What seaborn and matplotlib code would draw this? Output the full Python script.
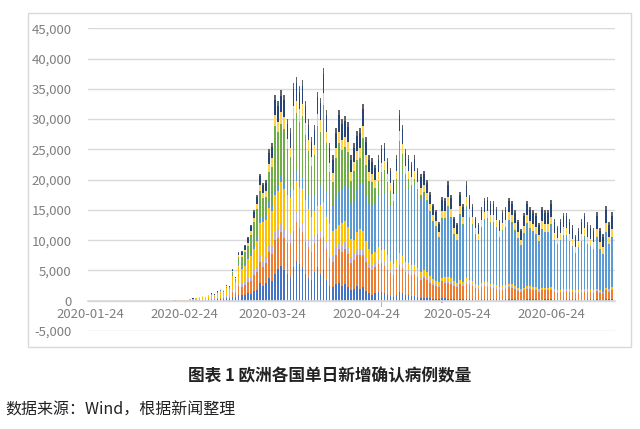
import pandas as pd
import numpy as np
import matplotlib.pyplot as plt
import matplotlib.dates as mdates
from matplotlib.patches import Rectangle
from matplotlib.ticker import FuncFormatter
import seaborn as sns

# ==========================================
# DATA (daily new cases, thousands, 2020-02-21 .. 2020-07-14)
# series listed bottom -> top as stacked in the source chart
# ==========================================

first_day = "2020-01-24"
data_start = "2020-02-21"
data_end = "2020-07-14"

blue = [
    0, 0, 0, 0, 0.02, 0.03, 0.05, 0.06, 0.08, 0.1, 0.1, 0.15, 0.2, 0.2, 0.25, 0.3, 0.3, 0.4, 0.35, 0.7, 0.6, 1.0,
    0.9, 1.0, 1.2, 1.1, 1.6, 1.8, 3.0, 2.5, 3.0, 3.8, 3.2,
    4.5, 5.2, 5.8, 5.0, 4.5, 4.0, 5.5, 6.5, 6.0, 5.5, 4.5, 3.8, 3.5, 4.8, 5.5, 4.5, 5.0, 3.5, 2.5, 2.2,
    2.8, 3.0, 2.5, 2.8, 2.2, 1.8, 2.0, 2.4, 2.0, 2.2, 1.6, 1.2, 1.0, 1.2, 1.4, 1.5, 1.2, 1.0, 0.8, 0.7,
    1.0, 1.4, 1.2, 1.0, 0.9, 0.8, 0.8, 0.6, 0.5, 0.5, 0.5, 0.4, 0.3, 0.3, 0.3,
    0.4, 0.4, 0.3, 0.3, 0.3, 0.2, 0.3, 0.3, 0.3, 0.3, 0.3, 0.2, 0.2,
    0.3, 0.3, 0.3, 0.3, 0.3, 0.3, 0.2, 0.2, 0.3, 0.3, 0.3, 0.3, 0.2, 0.2, 0.2,
    0.3, 0.3, 0.3, 0.3, 0.2, 0.2, 0.3, 0.3, 0.3, 0.3, 0.2, 0.2, 0.2,
    0.3, 0.3, 0.3, 0.3, 0.2, 0.2, 0.2, 0.3, 0.3, 0.3, 0.3, 0.2, 0.2, 0.3, 0.3, 0.3,
]

orange = [
    0, 0, 0, 0, 0, 0, 0.02, 0.03, 0.04, 0.05, 0.08, 0.1, 0.12, 0.12, 0.15, 0.18, 0.2, 0.3, 0.3, 0.8, 0.7, 1.5,
    1.4, 1.6, 1.9, 2.2, 2.6, 2.9, 3.4, 3.0, 3.2, 4.2, 4.5,
    5.5, 5.2, 5.5, 5.3, 5.0, 5.5, 6.0, 6.5, 6.0, 5.8, 5.2, 5.0, 4.5, 4.8, 5.5, 5.8, 5.5, 5.0, 4.5, 4.2,
    4.8, 5.5, 5.6, 5.8, 5.5, 4.5, 4.8, 5.2, 5.5, 5.3, 4.8, 4.2, 4.0, 4.3, 4.6, 4.8, 4.5, 4.0, 3.8, 3.6,
    4.0, 4.5, 4.2, 3.8, 3.6, 3.5, 3.6, 3.3, 3.0, 3.2, 3.0, 2.6, 2.3, 2.2, 2.0,
    2.8, 2.6, 2.7, 2.5, 2.2, 2.0, 2.4, 2.2, 2.5, 2.3, 2.1, 1.9, 1.8, 2.0, 2.2, 2.0, 1.9, 1.8, 1.7, 1.5,
    1.6, 1.7, 1.9, 1.8, 1.6, 1.4, 1.3, 1.5, 1.7, 1.6, 1.5, 1.5, 1.3, 1.5, 1.4, 1.4, 1.5, 1.2, 1.1, 1.2,
    1.3, 1.3, 1.2, 1.1, 1.0, 1.1, 1.2, 1.3, 1.2, 1.1, 1.0, 1.3, 1.1, 1.0, 1.4, 1.2, 1.5,
]

gray = [
    0, 0, 0, 0, 0, 0, 0, 0, 0.02, 0.03, 0.03, 0.05, 0.06, 0.06, 0.08, 0.1, 0.1, 0.15, 0.15, 0.3, 0.3, 0.5,
    0.4, 0.5, 0.6, 0.7, 0.8, 0.9, 1.0, 1.0, 1.1, 1.2, 1.3,
    1.4, 1.5, 1.5, 1.6, 1.5, 1.5, 1.6, 1.7, 1.6, 1.6, 1.5, 1.3, 1.2, 1.2, 1.2, 1.3, 1.3, 1.2, 1.1, 1.0,
    1.1, 1.1, 1.0, 1.1, 1.0, 0.9, 0.9, 1.0, 1.0, 1.0, 0.9, 0.8, 0.8, 0.8, 0.8, -1.1, 0.7, 0.7, 0.6, 0.6,
    0.6, 0.6, 0.6, 0.5, 0.5, 0.5, 0.5, 0.5, 0.4, 0.4, 0.4, 0.4, 0.3, 0.3, 0.3,
    -0.4, 0.3, 0.3, 0.3, 0.3, 0.3, 0.3, 0.3, 0.3, 0.3, 0.3, 0.3, 0.3,
    0.3, 0.3, 0.3, 0.3, 0.3, 0.3, 0.3, 0.3, 0.3, 0.3, 0.3, 0.3,
    0.2, 0.2, 0.2, 0.2, 0.2, 0.2, 0.2, 0.2, 0.2, 0.2, 0.2, 0.2, 0.2, 0.2, 0.2, 0.2,
    0.2, 0.2, 0.2, 0.2, 0.2, 0.2, 0.2, 0.2, 0.2, 0.2, 0.2, 0.2, 0.2, 0.2, 0.2, 0.2,
]

yellow = [
    0.03, 0.06, 0.06, 0.1, 0.12, 0.2, 0.25, 0.3, 0.35, 0.5, 0.35, 0.55, 0.6, 0.5, 0.8, 1.1, 0.9, 1.3, 1.2, 2.3, 1.5, 2.8,
    2.5, 2.6, 3.2, 3.4, 3.6, 4.3, 5.5, 6.5, 6.0, 6.2, 5.8,
    6.0, 6.3, 6.8, 6.5, 6.5, 6.0, 5.2, 5.0, 5.0, 5.6, 5.5, 5.0, 4.6, 4.0, 3.5, 4.2, 4.5, 4.2, 4.8, 4.2,
    3.2, 2.9, 3.8, 3.5, 3.5, 3.0, 2.3, 2.7, 3.4, 3.0, 2.6, 2.3, 2.0, 1.7, 2.0, 2.1, 1.9, 1.9, 1.4, 1.2,
    1.1, 1.4, 1.4, 1.1, 1.3, 1.1, 1.0, 1.0, 0.8, 0.9, 0.8, 0.7, 0.7, 0.5, 0.45,
    0.6, 0.6, 0.6, 0.7, 0.5, 0.5, 0.4, 0.3, 0.6, 0.6, 0.5, 0.4, 0.3, 0.3, 0.3, 0.5, 0.3, 0.3, 0.3, 0.2,
    0.3, 0.3, 0.3, 0.3, 0.3, 0.3, 0.2, 0.2, 0.2, 0.3, 0.3, 0.3, 0.2, 0.2, 0.2, 0.2, 0.3, 0.3, 0.2, 0.2,
    0.2, 0.2, 0.2, 0.2, 0.2, 0.2, 0.2, 0.3, 0.2, 0.2, 0.2, 0.2, 0.2, 0.1, 0.2, 0.2, 0.2,
]

light_blue = [
    0, 0, 0, 0, 0, 0, 0, 0, 0, 0, 0, 0, 0.02, 0.02, 0.03, 0.04, 0.05, 0.05, 0.05, 0.1, 0.1, 0.2,
    0.2, 0.3, 0.3, 0.4, 0.5, 0.6, 0.7, 0.7, 0.8, 0.9, 1.0,
    0.8, 0.9, 1.0, 1.1, 1.2, 1.3, 1.5, 1.6, 1.8, 2.0, 2.1, 2.2, 2.3, 2.6, 3.0, 3.4, 4.0, 4.0, 4.0, 4.0,
    5.0, 5.5, 5.5, 6.0, 6.5, 6.0, 6.5, 7.0, 7.5, 8.0, 7.5, 7.5, 8.0, 8.0, 8.5, 9.0, 9.5, 9.0, 9.0, 9.0,
    11.0, 14.0, 13.5, 12.0, 12.0, 12.0, 13.0, 12.0, 12.0, 12.5, 11.7, 10.6, 9.4, 8.8, 7.3,
    9.7, 9.6, 11.6, 10.0, 7.6, 7.0, 10.8, 9.4, 11.8, 10.3, 9.3, 8.1, 7.4, 9.2, 10.3, 10.3, 10.1, 10.2, 9.5, 8.2,
    9.2, 9.5, 10.5, 10.2, 9.1, 8.2, 7.2, 9.0, 10.4, 9.5, 9.2, 8.7, 7.9, 9.7, 9.2, 9.2, 10.2, 8.0, 7.5, 8.2,
    8.9, 8.7, 7.9, 7.2, 6.1, 7.0, 8.0, 8.6, 7.4, 7.2, 6.8, 8.5, 6.8, 6.2, 9.2, 7.4, 8.3,
]

green = [
    0, 0, 0, 0, 0, 0, 0, 0, 0, 0, 0, 0, 0.05, 0.06, 0.09, 0.1, 0.1, 0.15, 0.15, 0.5, 0.4, 1.2,
    1.8, 2.0, 1.9, 3.1, 3.9, 4.7, 4.6, 3.2, 3.0, 5.0, 6.3,
    10.6, 8.7, 8.6, 8.9, 6.3, 5.4, 10.3, 9.7, 9.2, 10.0, 8.6, 7.4, 6.1, 6.6, 10.2, 8.7, 12.0, 8.1, 4.3, 4.0,
    6.7, 8.1, 6.5, 6.2, 5.9, 3.6, 5.0, 4.9, 4.2, 7.4, 5.1, 3.8, 3.8, 2.6, 2.5, 3.8, 3.8, 3.0, 2.6, 1.3,
    2.4, 4.5, 3.4, 2.5, 1.8, 1.2, 1.2, 1.0, 0.8, 0.5, 0.3, 0.2, 0.2, 0.2, 0.15,
    0.1, 0.1, 0.2, 0.1, 0.1, 0.1, 0.1, 0.1, 0.2, 0.1, 0.1, 0.1, 0.1, 0.1, 0.1, 0.2, 0.1, 0.1, 0.1, 0.1,
    0.1, 0.1, 0.1, 0.1, 0.1, 0.1, 0.1, 0.1, 0.1, 0.1, 0.1, 0.1, 0.1, 0.1, 0.1, 0.1, 0.1, 0.1, 0.1, 0.1,
    0.1, 0.1, 0.1, 0.1, 0.1, 0.1, 0.1, 0.1, 0.1, 0.1, 0.1, 0.1, 0.1, 0.1, 0.1, 0.1, 0.1,
]

top_yellow = [
    0.01, 0.02, 0.02, 0.02, 0.03, 0.03, 0.03, 0.05, 0.05, 0.05, 0.07, 0.05, 0.05, 0.05, 0.08, 0.08, 0.05, 0.1, 0.1, 0.15, 0.1, 0.3,
    0.4, 0.45, 0.5, 0.6, 0.7, 0.8, 1.0, 0.9, 1.0, 1.3, 1.4,
    1.8, 1.8, 1.9, 1.9, 1.7, 1.6, 2.0, 2.0, 2.0, 2.0, 1.9, 1.8, 1.6, 1.7, 1.9, 1.9, 2.0, 1.8, 1.6, 1.5,
    1.6, 1.8, 1.7, 1.7, 1.6, 1.4, 1.5, 1.6, 1.6, 1.9, 1.5, 1.4, 1.3, 1.3, 1.4, 1.5, 1.5, 1.3, 1.3, 1.2,
    1.3, 1.7, 1.6, 1.4, 1.3, 1.3, 1.3, 1.2, 1.2, 1.2, 1.1, 1.0, 0.9, 0.9, 0.8,
    1.3, 1.2, 1.4, 1.3, 1.0, 1.0, 1.3, 1.2, 1.4, 1.3, 1.2, 1.0, 1.0, 1.1, 1.2, 1.2, 1.2, 1.2, 1.1, 1.0,
    1.1, 1.1, 1.2, 1.2, 1.1, 1.0, 0.9, 1.1, 1.2, 1.2, 1.1, 1.1, 1.0, 1.2, 1.2, 1.2, 1.3, 1.1, 1.0, 1.1,
    1.2, 1.2, 1.2, 1.1, 1.0, 1.0, 1.2, 1.3, 1.2, 1.1, 1.1, 1.3, 1.1, 1.0, 1.4, 1.2, 1.3,
]

navy = [
    0.01, 0.02, 0.02, 0.03, 0.03, 0.04, 0.05, 0.06, 0.06, 0.07, 0.07, 0.1, 0.1, 0.09, 0.12, 0.1, 0.1, 0.15, 0.1, 0.3, 0.25, 0.4,
    0.5, 0.6, 0.7, 0.8, 1.0, 1.2, 1.4, 1.3, 1.4, 1.8, 1.9,
    2.6, 2.6, 2.8, 2.8, 2.5, 2.4, 2.9, 3.0, 2.9, 3.0, 2.8, 2.6, 2.4, 2.5, 2.8, 2.8, 3.2, 2.8, 2.4, 2.2,
    2.5, 2.7, 2.6, 2.6, 2.5, 2.1, 2.3, 2.4, 2.5, 2.8, 2.3, 2.1, 2.0, 2.0, 2.1, 2.3, 2.2, 2.0, 1.9, 1.8,
    2.0, 2.6, 2.4, 2.1, 2.0, 2.0, 2.0, 1.9, 1.8, 1.8, 1.7, 1.6, 1.5, 1.4, 1.3,
    1.8, 1.7, 2.0, 1.8, 1.5, 1.4, 1.9, 1.7, 2.0, 1.8, 1.7, 1.5, 1.4, 1.7, 1.8, 1.8, 1.8, 1.8, 1.7, 1.5,
    1.7, 1.7, 1.9, 1.8, 1.7, 1.6, 1.4, 1.7, 1.9, 1.8, 1.8, 1.8, 1.6, 1.9, 1.9, 1.9, 2.1, 1.8, 1.7, 1.8,
    1.9, 2.0, 1.9, 1.8, 1.6, 1.7, 1.9, 2.0, 1.9, 1.8, 1.8, 2.1, 1.8, 1.7, 2.2, 1.9, 2.1,
]

dark_gray = [
    0, 0, 0, 0, 0, 0, 0, 0, 0, 0, 0, 0, 0, 0, 0, 0, 0, 0, 0, 0.05, 0.05, 0.1,
    0.1, 0.15, 0.2, 0.2, 0.3, 0.3, 0.4, 0.4, 0.5, 0.6, 0.6,
    0.8, 0.8, 0.9, 0.9, 0.8, 0.8, 1.0, 1.0, 1.0, 1.0, 0.9, 0.9, 0.8, 0.8, 0.9, 0.9, 1.0, 0.9, 0.8, 0.7,
    0.8, 0.9, 0.8, 0.8, 0.8, 0.7, 0.7, 0.8, 0.8, 0.9, 0.7, 0.7, 0.6, 0.6, 0.7, 0.7, 0.7, 0.6, 0.6, 0.6,
    0.6, 0.8, 0.7, 0.6, 0.6, 0.6, 0.6, 0.5, 0.5, 0.5, 0.5, 0.5, 0.4, 0.4, 0.4,
    0.5, 0.5, 0.6, 0.5, 0.4, 0.4, 0.5, 0.5, 0.6, 0.5, 0.5, 0.4, 0.4, 0.5, 0.5, 0.5, 0.5, 0.5, 0.5, 0.4,
    0.5, 0.5, 0.5, 0.5, 0.5, 0.4, 0.4, 0.5, 0.5, 0.5, 0.5, 0.5, 0.4, 0.5, 0.5, 0.5, 0.6, 0.5, 0.4, 0.5,
    0.5, 0.5, 0.5, 0.5, 0.4, 0.5, 0.5, 0.5, 0.5, 0.5, 0.5, 0.6, 0.5, 0.5, 0.6, 0.5, 0.6,
]

series_order = ["blue", "orange", "gray", "yellow", "light_blue", "green", "top_yellow", "navy", "dark_gray"]
series_colors = ["#4472C4", "#ED7D31", "#B8B0D8", "#FFC000", "#5B9BD5", "#70AD47", "#FFD34D", "#264478", "#636363"]

tick_dates = ["2020-01-24", "2020-02-24", "2020-03-24", "2020-04-24", "2020-05-24", "2020-06-24"]
y_ticks = [-5000, 0, 5000, 10000, 15000, 20000, 25000, 30000, 35000, 40000, 45000]

chart_title = "图表 1 欧洲各国单日新增确认病例数量"
source_note = "数据来源：Wind，根据新闻整理"

# ==========================================
# BUILD TABLE
# ==========================================

df = pd.DataFrame({
    "blue": blue,
    "orange": orange,
    "gray": gray,
    "yellow": yellow,
    "light_blue": light_blue,
    "green": green,
    "top_yellow": top_yellow,
    "navy": navy,
    "dark_gray": dark_gray,
}, index=pd.date_range(data_start, data_end)) * 1000

# no cases reported before 2020-02-21
df = df.reindex(pd.date_range(first_day, data_end), fill_value=0)

# ==========================================
# PLOT
# ==========================================

sns.set_theme(style="white")
plt.rcParams['font.family'] = ['Noto Sans CJK SC', 'DejaVu Sans']

fig = plt.figure(figsize=(6.4, 4.29), dpi=100)
ax = fig.add_axes([0.1375, 0.2284, 0.8234, 0.7056])

pos_bottom = np.zeros(len(df))
neg_bottom = np.zeros(len(df))

for name, color in zip(series_order, series_colors):
    vals = df[name].values
    bottom = np.where(vals >= 0, pos_bottom, neg_bottom)
    ax.bar(df.index, vals, bottom=bottom, width=0.5, color=color, linewidth=0)
    pos_bottom += np.clip(vals, 0, None)
    neg_bottom += np.clip(vals, None, 0)

ax.set_xlim(pd.Timestamp(first_day) - pd.Timedelta(hours=16),
            pd.Timestamp(data_end) + pd.Timedelta(hours=24))
ax.set_ylim(-5000, 45000)

ax.set_yticks(y_ticks)
ax.yaxis.set_major_formatter(FuncFormatter(lambda v, p: f"{int(v):,}"))
ax.set_xticks(pd.to_datetime(tick_dates))
ax.xaxis.set_major_formatter(mdates.DateFormatter("%Y-%m-%d"))

ax.set_axisbelow(True)
ax.yaxis.grid(True, color="#D9D9D9", linewidth=1)
ax.xaxis.grid(False)

for side in ["left", "right", "top"]:
    ax.spines[side].set_visible(False)
ax.spines["bottom"].set_position(("data", 0))
ax.spines["bottom"].set_color("#D9D9D9")

ax.tick_params(axis="y", length=0, pad=12, labelsize=9.5, labelcolor="#7F7F7F")
ax.tick_params(axis="x", length=0, pad=5, labelsize=9.5, labelcolor="#7F7F7F")

ax.set_xlabel("")
ax.set_ylabel("")

# chart frame
fig.patches.append(Rectangle((28 / 640, 1 - 347 / 429), 603 / 640, 334 / 429,
                             transform=fig.transFigure, fill=False,
                             edgecolor="#D9D9D9", linewidth=1))

fig.text(0.515, 1 - 376 / 429, chart_title, ha="center", va="center",
         fontsize=12, fontweight="bold", color="#222222")
fig.text(0.008, 1 - 410 / 429, source_note, ha="left", va="center",
         fontsize=11.5, color="#222222")

plt.savefig("out.png", dpi=100)
plt.close()
